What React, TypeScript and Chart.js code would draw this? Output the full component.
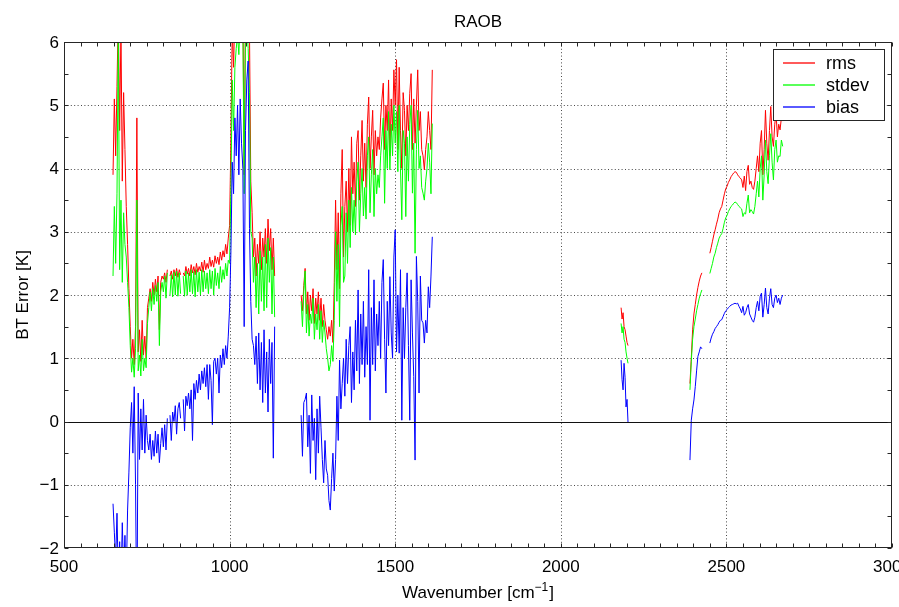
import React, { useEffect, useRef } from "react";
import { Chart, registerables } from "chart.js";

Chart.register(...registerables);

// ---------- DATA ----------
// Band 1 wavenumbers [cm-1]
const wnBand1 = [
  648, 652, 656, 660, 664, 668, 672, 676, 680, 684,
  688, 692, 696, 700, 704, 708, 712, 716, 720, 724,
  728, 732, 736, 740, 744, 748, 752, 756, 760, 764,
  768, 772, 776, 780, 784, 788, 792, 796, 800, 804,
  808, 812, 816, 820, 824, 828, 832, 836, 840, 844,
  848, 852, 856, 860, 864, 868, 872, 876, 880, 884,
  888, 892, 896, 900, 904, 908, 912, 916, 920, 924,
  928, 932, 936, 940, 944, 948, 952, 956, 960, 964,
  968, 972, 976, 980, 984, 988, 992, 996, 1000, 1004,
  1008, 1012, 1016, 1020, 1024, 1028, 1032, 1036, 1040, 1044,
  1048, 1052, 1056, 1060, 1064, 1068, 1072, 1076, 1080, 1084,
  1088, 1092, 1096, 1100, 1104, 1108, 1112, 1116, 1120, 1124,
  1128, 1132, 1136,
];
const rmsBand1 = [
  3.9, 5.1, 4.2, 5.3, 6.5, 4.6, 6.2, 3.8, 5.2, 4.3,
  3.4, 2.8, 2.1, 1.5, 1.0, 1.3, 0.9, 1.5, 4.8, 1.1,
  1.45, 0.95, 1.6, 1.05, 1.35, 1.0, 1.8, 1.95, 2.1, 1.9,
  2.2, 2.0, 2.25, 2.05, 2.3, 1.45, 2.2, 2.3, 2.25, 2.35,
  2.2, 2.4, null, 2.3, 2.38, 2.25, 2.4, 2.3, 2.42, 2.28,
  2.4, 2.32, null, 2.35, 2.3, 2.45, 2.33, 2.42, 2.3, 2.48,
  2.35, 2.45, 2.32, 2.5, 2.36, 2.45, 2.38, 2.52, 2.36, 2.55,
  2.4, 2.5, 2.42, 2.6, 2.45, 2.55, 2.44, 2.62, 2.5, 2.6,
  2.48, 2.68, 2.55, 2.7, 2.6, 2.8, 2.65, 2.9, 3.1, 4.5,
  6.2, 5.6, 6.5, 6.4, 6.8, 6.3, 6.9, 6.5, 6.7, 3.9,
  6.6, 6.8, 6.6, 6.2, 3.8, 3.3, 2.6, 2.9, 2.3, 2.8,
  2.5, 3.0, 2.4, 2.9, 2.6, 3.05, 2.5, 3.2, 2.7, 3.05,
  2.4, 2.9, 2.3,
];
const stdevBand1 = [
  2.3, 3.4, 2.5, 3.6, 6.2, 2.4, 3.5, 2.2, 3.3, 2.8,
  2.6, 2.2, 1.8, 1.2, 0.78, 1.0, 0.7, 1.15, 3.5, 0.8,
  1.05, 0.72, 1.3, 0.8, 1.0, 0.85, 1.55, 1.8, 2.05, 1.75,
  2.1, 1.85, 2.15, 1.9, 2.2, 1.2, 2.05, 2.2, 2.05, 2.3,
  1.95, 2.35, null, 2.0, 2.32, 1.97, 2.36, 2.0, 2.38, 1.98,
  2.35, 2.02, null, 2.3, 1.98, 2.38, 2.0, 2.35, 2.05, 2.4,
  2.02, 2.37, 1.97, 2.4, 2.05, 2.36, 2.0, 2.4, 2.05, 2.38,
  2.1, 2.35, 2.02, 2.4, 2.1, 2.38, 2.0, 2.42, 2.15, 2.35,
  2.1, 2.45, 2.2, 2.4, 2.25, 2.5, 2.3, 2.55, 2.5, 3.7,
  5.4, 4.6, 5.6, 5.9, 6.1, 5.8, 6.4, 6.0, 6.3, 3.6,
  6.2, 6.3, 5.9, 5.2, 3.0, 2.9, 2.2, 2.6, 1.8, 2.5,
  1.7, 2.7, 1.9, 2.6, 1.75, 2.8, 1.8, 2.9, 2.2, 2.75,
  1.7, 2.6, 1.65,
];
const biasBand1 = [
  -1.3, -1.75, -2.2, -1.45, -2.5, -1.9, -2.6, -1.6, -2.4, -1.8,
  -2.5, -1.4, -0.8, -0.1, 0.3, -0.5, 0.55, -1.0, -3.3, 0.45,
  -0.6, 0.2, -0.45, 0.35, -0.5, 0.1, -0.3, -0.45, -0.2, -0.6,
  -0.3, -0.55, -0.15, -0.5, -0.2, -0.65, -0.35, -0.1, -0.4, -0.05,
  -0.45, 0.05, null, 0.1, -0.3, 0.15, 0.0, 0.25, -0.2, 0.2,
  0.3, 0.05, null, 0.35, -0.15, 0.4, 0.25, 0.45, 0.2, 0.5,
  -0.3, 0.6, 0.35, 0.65, 0.45, 0.75, 0.5, 0.8, 0.6, 0.85,
  0.55, 0.9, 0.35, 0.9, 0.65, -0.05, 0.95, 1.0, 0.75, 1.0,
  0.45, 1.05, 0.85, 1.15, 0.9, 1.2, 1.0, 1.35, 1.8, 2.7,
  4.1, 3.6, 4.8, 4.2, 5.0, 3.9, 5.1, 4.4, 4.0, 1.5,
  4.6, 5.4, 5.7, 3.05, 1.9, 1.3, 1.2, 0.9, 1.35, 0.6,
  1.4, 0.5, 1.25, 0.3, 1.45, 0.45, 1.1, 0.15, 1.3, 0.6,
  1.25, -0.58, 1.5,
];

// Band 2
const wnBand2 = [
  1216, 1220, 1224, 1228, 1232, 1236, 1240, 1244, 1248, 1252,
  1256, 1260, 1264, 1268, 1272, 1276, 1280, 1284, 1288, 1292,
  1296, 1300, 1304, 1308, 1312, 1316, 1320, 1324, 1328, 1332,
  1336, 1340, 1344, 1348, 1352, 1356, 1360, 1364, 1368, 1372,
  1376, 1380, 1384, 1388, 1392, 1396, 1400, 1404, 1408, 1412,
  1416, 1420, 1424, 1428, 1432, 1436, 1440, 1444, 1448, 1452,
  1456, 1460, 1464, 1468, 1472, 1476, 1480, 1484, 1488, 1492,
  1496, 1500, 1504, 1508, 1512, 1516, 1520, 1524, 1528, 1532,
  1536, 1540, 1544, 1548, 1552, 1556, 1560, 1564, 1568, 1572,
  1576, 1580, 1584, 1588, 1592, 1596, 1600, 1604, 1608, 1612,
];
const rmsBand2 = [
  2.0, 1.75, 2.15, 2.42, 1.7, 2.05, 1.6, 2.0, 1.75, 2.1,
  1.55, 1.95, 1.7, 2.05, 1.6, 1.95, 1.5, 1.85, 1.6, 1.45,
  1.3, 1.5, 1.35, 1.6, 1.25, 2.2, 3.5, 2.4, 3.3, 2.1,
  3.6, 4.3, 2.6, 3.4, 3.8, 3.0, 4.0, 3.1, 4.5, 3.6,
  4.1, 3.4, 4.4, 4.6, 3.5, 4.2, 4.76, 3.8, 4.4, 3.7,
  4.7, 5.13, 4.0, 4.5, 4.92, 3.9, 4.6, 4.2, 4.5, 4.3,
  4.8, 5.1, 5.35, 4.3, 5.0, 4.6, 5.4, 4.2, 5.1, 4.6,
  5.56, 5.0, 5.72, 4.3, 5.6, 4.6, 4.0, 5.2, 4.92, 4.2,
  5.0, 4.6, 5.19, 5.5, 4.3, 5.1, 4.4, 5.0, 5.56, 4.6,
  4.9, 4.3, 4.2, 3.98, 4.3, 4.5, 4.9, 4.6, 4.3, 5.56,
];
const stdevBand2 = [
  1.9, 1.5, 2.05, 2.38, 1.4, 1.85, 1.35, 1.7, 1.55, 1.95,
  1.3, 1.7, 1.45, 1.85, 1.3, 1.75, 1.25, 1.6, 1.4, 1.15,
  1.0, 0.8, 0.9, 1.2, 0.95, 1.6, 3.0, 1.9, 2.8, 1.5,
  3.1, 3.4, 2.2, 2.3, 3.3, 2.5, 3.5, 2.75, 3.7, 3.0,
  3.5, 2.95, 3.8, 4.1, 3.0, 3.6, 4.0, 3.25, 3.7, 3.2,
  4.2, 4.5, 3.3, 3.9, 4.3, 3.24, 4.0, 3.6, 3.9, 3.7,
  4.2, 4.5, 4.8, 3.45, 4.6, 4.0, 4.9, 3.98, 4.7, 4.2,
  5.0, 4.4, 4.9, 3.95, 5.0, 4.0, 3.19, 4.6, 4.4, 3.24,
  4.5, 3.8, 4.7, 5.0, 3.61, 4.4, 2.66, 4.3, 4.92, 4.0,
  4.2, 3.7, 3.61, 3.5, 3.8, 4.0, 4.4, 4.1, 3.6, 4.71,
];
const biasBand2 = [
  0.1, -0.55, 0.3, 0.35, 0.45, -0.4, 0.1, -0.82, 0.42, -0.3,
  0.05, -0.92, 0.2, -0.5, 0.4, -0.1, -0.6, -0.97, -0.3, -0.75,
  -0.85, -1.25, -1.4, -0.9, -0.5, -1.1, -0.6, 0.4, -0.3, 0.97,
  0.2, 0.6, 1.0, 0.4, 1.3, 0.6, 1.2, 1.5, 0.3, 1.1,
  0.5, 1.6, 0.8, 2.08, 0.6, 1.7, 0.9, 1.9, 0.7, 1.5,
  0.9, 2.4, 0.02, 1.8, 0.9, 2.24, 0.8, 1.7, 1.2, 1.9,
  1.0, 2.2, 2.56, 1.3, 0.45, 1.9, 1.2, 2.29, 1.4, 1.0,
  2.6, 3.03, 1.1, 2.0, 1.08, 2.4, 0.02, 1.8, 1.0, 1.8,
  2.35, 1.2, 0.02, 2.24, 1.4, 0.71, -0.61, 2.61, 1.9, 0.45,
  2.3, 1.6, 1.56, 1.24, 1.6, 1.4, 2.13, 1.8, 2.3, 2.92,
];

// Band 3a (short piece near 2190)
const wnBand3a = [2182, 2185, 2188, 2191, 2194, 2197, 2200, 2203];
const rmsBand3a = [1.8, 1.62, 1.72, 1.5, 1.45, 1.35, 1.25, 1.2];
const stdevBand3a = [1.55, 1.4, 1.5, 1.3, 1.25, 1.1, 1.0, 0.92];
const biasBand3a = [0.97, 0.66, 0.5, 0.92, 0.7, 0.23, 0.35, -0.02];

// Band 3b (start of the shortwave band)
const wnBand3b = [2390, 2394, 2398, 2402, 2406, 2410, 2414, 2418, 2422, 2426];
const rmsBand3b = [0.6, 1.0, 1.45, 1.7, 1.85, 2.0, 2.12, 2.22, 2.3, 2.35];
const stdevBand3b = [0.5, 0.95, 1.3, 1.5, 1.62, 1.75, 1.85, 1.95, 2.02, 2.08];
const biasBand3b = [-0.61, 0.02, 0.2, 0.34, 0.55, 0.8, 1.03, 1.1, 1.18, 1.15];

// Band 3c
const wnBand3c = [
  2450, 2454, 2458, 2462, 2466, 2470, 2474, 2478, 2482, 2486,
  2490, 2494, 2498, 2502, 2506, 2510, 2514, 2518, 2522, 2526,
  2530, 2534, 2538, 2542, 2546, 2550, 2554, 2558, 2562, 2566,
  2570, 2574, 2578, 2582, 2586, 2590, 2594, 2598, 2602, 2606,
  2610, 2614, 2618, 2622, 2626, 2630, 2634, 2638, 2642, 2646,
  2650, 2654, 2658, 2662, 2666, 2670,
];
const rmsBand3c = [
  2.66, 2.75, 2.85, 2.95, 3.03, 3.12, 3.2, 3.3, 3.36, 3.4,
  3.5, 3.6, 3.68, 3.72, 3.78, 3.82, 3.87, 3.9, 3.93, 3.95,
  3.94, 3.9, 3.87, 3.85, 3.82, 3.7, 3.88, 3.65, 3.95, 4.05,
  3.75, 3.8, 3.7, 3.67, 3.8, 4.0, 4.2, 3.95, 4.4, 4.6,
  3.9, 4.3, 4.92, 4.4, 4.13, 4.6, 4.98, 4.5, 4.35, 4.7,
  4.87, 4.5, 4.7, 4.61, 4.8, 4.75,
];
const stdevBand3c = [
  2.34, 2.42, 2.5, 2.6, 2.66, 2.75, 2.82, 2.9, 2.94, 2.97,
  3.05, 3.15, 3.22, 3.26, 3.32, 3.36, 3.4, 3.42, 3.45, 3.47,
  3.46, 3.43, 3.4, 3.38, 3.36, 3.24, 3.3, 3.28, 3.45, 3.58,
  3.3, 3.35, 3.32, 3.28, 3.4, 3.6, 3.8, 3.55, 4.0, 4.2,
  3.5, 3.9, 4.45, 3.95, 3.76, 4.2, 4.55, 4.1, 3.82, 4.3,
  4.45, 4.1, 4.2, 4.19, 4.45, 4.35,
];
const biasBand3c = [
  1.24, 1.32, 1.38, 1.42, 1.47, 1.5, 1.53, 1.57, 1.6, 1.61,
  1.66, 1.71, 1.75, 1.77, 1.8, 1.82, 1.84, 1.85, 1.86, 1.87,
  1.86, 1.87, 1.82, 1.78, 1.72, 1.82, 1.68, 1.72, 1.8, 1.85,
  1.7, 1.65, 1.6, 1.57, 1.65, 1.8, 1.9, 1.75, 1.98, 2.03,
  1.65, 1.85, 2.11, 1.8, 1.7, 1.95, 2.1, 1.85, 1.8, 1.95,
  2.0, 1.88, 1.95, 1.85, 1.95, 2.0,
];

const seriesNames = ["rms", "stdev", "bias"];
const seriesColors = ["#ff0000", "#00ff00", "#0000ff"];

const xMajorTicks = [500, 1000, 1500, 2000, 2500, 3000];
const yMajorTicks = [-2, -1, 0, 1, 2, 3, 4, 5, 6];
const xMinorStep = 50;
const yMinorStep = 0.5;

const titleText = "RAOB";
const xLabelMain = "Wavenumber [cm";
const xLabelSup = "\u22121";
const xLabelEnd = "]";
const yLabelText = "BT Error [K]";

const FONT = '"Liberation Sans", Arial, Helvetica, sans-serif';

type Pt = { x: number; y: number | null };

function joinBands(bands: [number[], (number | null)[]][]): Pt[] {
  const pts: Pt[] = [];
  bands.forEach(([w, v], bi) => {
    if (bi > 0) pts.push({ x: w[0], y: null });
    w.forEach((x, i) => pts.push({ x, y: v[i] }));
  });
  return pts;
}

const matlabAxes = {
  id: "matlabAxes",
  beforeDatasetsDraw(chart: any) {
    const { ctx, chartArea: a, scales } = chart;
    const xs = scales.x;
    const ys = scales.y;
    ctx.save();
    ctx.strokeStyle = "rgba(40,40,40,0.85)";
    ctx.lineWidth = 1;
    ctx.setLineDash([1, 2.4]);
    ctx.beginPath();
    for (const t of xMajorTicks) {
      const px = Math.round(xs.getPixelForValue(t)) + 0.5;
      if (px > a.left + 2 && px < a.right - 2) {
        ctx.moveTo(px, a.top);
        ctx.lineTo(px, a.bottom);
      }
    }
    for (const t of yMajorTicks) {
      const py = Math.round(ys.getPixelForValue(t)) + 0.5;
      if (py > a.top + 2 && py < a.bottom - 2) {
        ctx.moveTo(a.left, py);
        ctx.lineTo(a.right, py);
      }
    }
    ctx.stroke();
    ctx.restore();
  },
  afterDatasetsDraw(chart: any) {
    const { ctx, chartArea: a, scales } = chart;
    const xs = scales.x;
    const ys = scales.y;
    ctx.save();
    ctx.setLineDash([]);
    ctx.lineWidth = 1;

    // zero line
    const y0 = Math.round(ys.getPixelForValue(0)) + 0.5;
    ctx.strokeStyle = "#111";
    ctx.beginPath();
    ctx.moveTo(a.left, y0);
    ctx.lineTo(a.right, y0);
    ctx.stroke();

    // frame
    const L = Math.round(a.left) + 0.5;
    const R = Math.round(a.right) - 0.5;
    const T = Math.round(a.top) + 0.5;
    const B = Math.round(a.bottom) - 0.5;
    ctx.strokeStyle = "#262626";
    ctx.strokeRect(L, T, R - L, B - T);

    // ticks (inward, all four sides)
    const tl = 4;
    ctx.beginPath();
    const xMin = xs.min, xMax = xs.max, yMin = ys.min, yMax = ys.max;
    for (let v = xMin; v <= xMax + 1e-9; v += xMinorStep) {
      const px = Math.round(xs.getPixelForValue(v)) + 0.5;
      ctx.moveTo(px, B);
      ctx.lineTo(px, B - tl);
      ctx.moveTo(px, T);
      ctx.lineTo(px, T + tl);
    }
    for (let v = yMin; v <= yMax + 1e-9; v += yMinorStep) {
      const py = Math.round(ys.getPixelForValue(v)) + 0.5;
      ctx.moveTo(L, py);
      ctx.lineTo(L + tl, py);
      ctx.moveTo(R, py);
      ctx.lineTo(R - tl, py);
    }
    ctx.stroke();

    // tick labels
    ctx.fillStyle = "#000";
    ctx.font = `17px ${FONT}`;
    ctx.textAlign = "center";
    ctx.textBaseline = "alphabetic";
    for (const t of xMajorTicks) {
      ctx.fillText(String(t), xs.getPixelForValue(t), a.bottom + 24);
    }
    ctx.textAlign = "right";
    ctx.textBaseline = "middle";
    for (const t of yMajorTicks) {
      const s = t < 0 ? "\u2212" + Math.abs(t) : String(t);
      ctx.fillText(s, a.left - 5, ys.getPixelForValue(t) + 1);
    }

    // title
    const cx = (a.left + a.right) / 2;
    ctx.textAlign = "center";
    ctx.textBaseline = "alphabetic";
    ctx.fillText(titleText, cx, a.top - 15);

    // x label with superscript
    const mainW = ctx.measureText(xLabelMain).width;
    const endW = ctx.measureText(xLabelEnd).width;
    ctx.font = `12px ${FONT}`;
    const supW = ctx.measureText(xLabelSup).width;
    const total = mainW + supW + endW + 1;
    let sx = cx - total / 2;
    const by = a.bottom + 50;
    ctx.textAlign = "left";
    ctx.font = `17px ${FONT}`;
    ctx.fillText(xLabelMain, sx, by);
    sx += mainW;
    ctx.font = `12px ${FONT}`;
    ctx.fillText(xLabelSup, sx, by - 7);
    sx += supW + 1;
    ctx.font = `17px ${FONT}`;
    ctx.fillText(xLabelEnd, sx, by);

    // y label
    ctx.save();
    ctx.translate(28, (a.top + a.bottom) / 2);
    ctx.rotate(-Math.PI / 2);
    ctx.textAlign = "center";
    ctx.textBaseline = "alphabetic";
    ctx.fillText(yLabelText, 0, 0);
    ctx.restore();

    // legend
    const lw = 111, lh = 71;
    const lx = Math.round(a.right) - 8 - lw;
    const ly = Math.round(a.top) + 7;
    ctx.fillStyle = "#fff";
    ctx.fillRect(lx, ly, lw, lh);
    ctx.strokeStyle = "#262626";
    ctx.strokeRect(lx + 0.5, ly + 0.5, lw, lh);
    ctx.font = `18px ${FONT}`;
    ctx.textAlign = "left";
    ctx.textBaseline = "middle";
    seriesNames.forEach((name, i) => {
      const ry = Math.round(ly + 14 + i * 22);
      ctx.strokeStyle = seriesColors[i];
      ctx.lineWidth = 1.3;
      ctx.beginPath();
      ctx.moveTo(lx + 10, ry);
      ctx.lineTo(lx + 42, ry);
      ctx.stroke();
      ctx.fillStyle = "#000";
      ctx.fillText(name, lx + 53, ry + 1);
    });

    ctx.restore();
  },
};

export default function App() {
  const ref = useRef<HTMLCanvasElement | null>(null);

  useEffect(() => {
    document.body.style.margin = "0";
    const canvas = ref.current;
    if (!canvas) return;

    const rms = joinBands([
      [wnBand1, rmsBand1],
      [wnBand2, rmsBand2],
      [wnBand3a, rmsBand3a],
      [wnBand3b, rmsBand3b],
      [wnBand3c, rmsBand3c],
    ]);
    const stdev = joinBands([
      [wnBand1, stdevBand1],
      [wnBand2, stdevBand2],
      [wnBand3a, stdevBand3a],
      [wnBand3b, stdevBand3b],
      [wnBand3c, stdevBand3c],
    ]);
    const bias = joinBands([
      [wnBand1, biasBand1],
      [wnBand2, biasBand2],
      [wnBand3a, biasBand3a],
      [wnBand3b, biasBand3b],
      [wnBand3c, biasBand3c],
    ]);
    const all = [rms, stdev, bias];

    const chart = new Chart(canvas, {
      type: "line",
      data: {
        datasets: all.map((d, i) => ({
          label: seriesNames[i],
          data: d as any,
          borderColor: seriesColors[i],
          backgroundColor: seriesColors[i],
          borderWidth: 1,
          pointRadius: 0,
          tension: 0,
          spanGaps: false,
          fill: false,
          order: 3 - i,
        })),
      },
      options: {
        responsive: false,
        animation: false,
        events: [],
        layout: { padding: { left: 64, top: 42, right: 7, bottom: 59 } },
        scales: {
          x: { type: "linear", min: 500, max: 3000, display: false },
          y: { type: "linear", min: -2, max: 6, display: false },
        },
        plugins: {
          legend: { display: false },
          tooltip: { enabled: false },
          title: { display: false },
        },
      },
      plugins: [matlabAxes],
    });

    return () => chart.destroy();
  }, []);

  return (
    <div style={{ width: 899, height: 607, background: "#fff" }}>
      <canvas ref={ref} width={899} height={607} style={{ display: "block" }} />
    </div>
  );
}
